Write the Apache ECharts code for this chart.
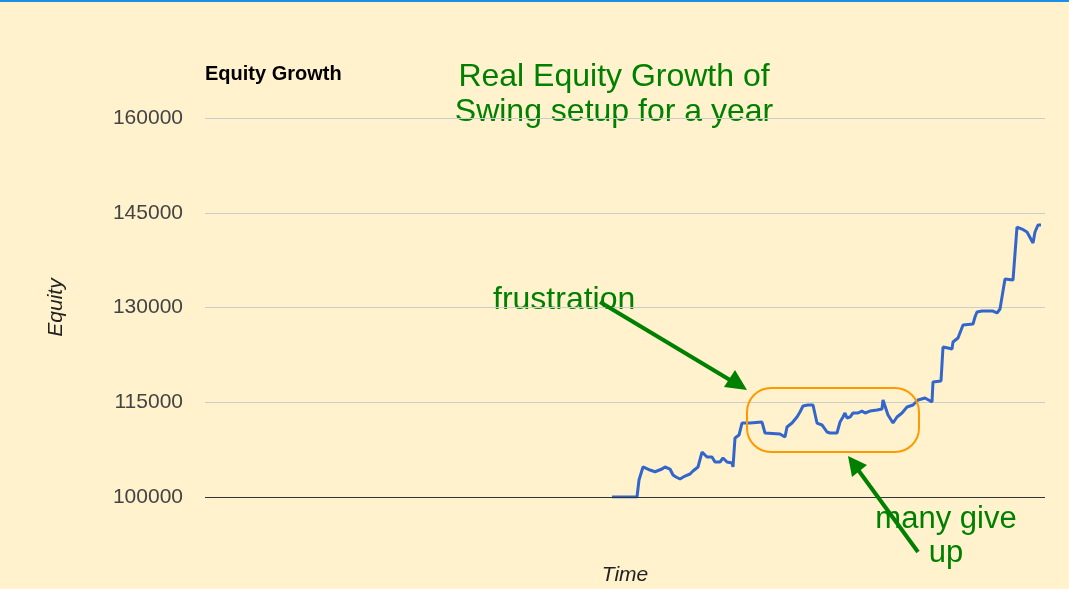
<!DOCTYPE html>
<html>
<head>
<meta charset="utf-8">
<title>Equity Growth</title>
<script src="https://cdn.jsdelivr.net/npm/echarts@6/dist/echarts.min.js"></script>
<style>
  html, body { margin: 0; padding: 0; background: #FFF2CC; }
  #chart { width: 1069px; height: 589px; }
</style>
</head>
<body>
<div id="chart"></div>
<script>
// time index (0..420 across the year) and account equity
var timeIdx = [
  203.5, 216, 217, 219, 222.5, 225, 228.5, 230, 232.5, 234, 235.5, 237.5, 240, 242.5, 244, 246.5,
  248.5, 251, 253.5, 255, 257.5, 259, 261, 263.5, 264, 265, 267, 268.5, 272.5, 278.5, 280, 281,
  287.5, 290, 291, 293.5, 296, 297.5, 299, 301.5, 304, 306, 308.5, 311, 312.5, 316, 317.5, 319,
  320, 321, 322.5, 324, 326.5, 328.5, 330, 332.5, 336, 338.5, 339, 340, 341.5, 344, 346, 348.5,
  351, 354, 356.5, 360, 363.5, 364, 368, 369, 371.5, 373.5, 374, 376.5, 377.5, 379, 384, 385,
  386, 388.5, 394, 396, 397.5, 398.5, 400, 404, 405, 406, 408.5, 411, 412, 414, 415, 416.5, 418
];
var equity = [
  100000, 100000, 102690, 104750, 104270, 104000, 104430, 104750, 104430, 103480, 103170, 102850, 103320, 103640, 104120, 104750,
  107120, 106330, 106330, 105540, 105540, 106170, 105540, 105380, 104750, 109340, 109810, 111710, 111710, 111870, 110130, 109970,
  109970, 109500, 111080, 111710, 112660, 113460, 114410, 114560, 114560, 111710, 111400, 110290, 110130, 110130, 111870, 112660,
  113300, 112510, 112660, 113300, 113300, 113610, 113300, 113610, 113770, 113930, 115350, 115040, 112980, 111710, 112660, 113300,
  114250, 114560, 115350, 115670, 115040, 118200, 118360, 123750, 123590, 123430, 124540, 125170, 125330, 127230, 127390, 128500,
  129290, 129440, 129440, 129130, 129760, 131660, 134510, 134350, 134190, 142740, 142420, 141950, 141950, 140210, 141950, 143060, 143060
];
var yTicks = [100000, 115000, 130000, 145000, 160000];

var green = '#008000';
var font = 'Liberation Sans, Arial, sans-serif';
var chart = echarts.init(document.getElementById('chart'), null, { renderer: 'canvas' });

var seriesData = timeIdx.map(function(t, i) { return [t, equity[i]]; });

chart.setOption({
  animation: false,
  backgroundColor: '#FFF2CC',
  textStyle: { fontFamily: font },
  title: {
    text: 'Equity Growth',
    left: 205,
    top: 64,
    padding: 0,
    textStyle: { fontSize: 20, fontWeight: 'bold', color: '#000', fontFamily: font }
  },
  grid: { left: 205, right: 24, top: 118, bottom: 92, outerBoundsMode: 'none', containLabel: false },
  xAxis: {
    type: 'value',
    min: 0,
    max: 420,
    name: 'Time',
    nameLocation: 'middle',
    nameGap: 68,
    nameTextStyle: { fontStyle: 'italic', fontSize: 21, color: '#222' },
    axisLabel: { show: false },
    axisTick: { show: false },
    axisLine: { show: false },
    splitLine: { show: false }
  },
  yAxis: {
    type: 'value',
    min: yTicks[0],
    max: yTicks[yTicks.length - 1],
    interval: 15000,
    name: 'Equity',
    nameLocation: 'middle',
    nameRotate: 90,
    nameGap: 138,
    nameTextStyle: { fontStyle: 'italic', fontSize: 21, color: '#222' },
    axisLabel: {
      color: '#444', fontSize: 21, margin: 22,
      formatter: function(v) { return String(v); }
    },
    axisTick: { show: false },
    axisLine: { show: false },
    splitLine: { lineStyle: { color: '#CCCCCC', width: 1 } }
  },
  series: [{
    type: 'line',
    data: seriesData,
    showSymbol: false,
    lineStyle: { color: '#3366CC', width: 3 },
    markLine: {
      silent: true,
      symbol: 'none',
      label: { show: false },
      lineStyle: { color: '#333', width: 1, type: 'solid' },
      data: [{ yAxis: yTicks[0] }]
    },
    z: 3
  }],
  graphic: [
    {
      type: 'rect',
      shape: { x: 0, y: 0, width: 1069, height: 2 },
      style: { fill: '#1A8FE3' }
    },
    {
      type: 'text',
      style: {
        text: 'Real Equity Growth of\nSwing setup for a year',
        x: 614, y: 60, align: 'center', verticalAlign: 'top',
        fill: green, fontSize: 32, lineHeight: 35, fontFamily: font
      }
    },
    {
      type: 'text',
      style: {
        text: 'frustration', x: 493, y: 300, verticalAlign: 'middle',
        fill: green, fontSize: 32, fontFamily: font
      }
    },
    {
      type: 'text',
      style: {
        text: 'many give\nup', x: 946, y: 502, align: 'center', verticalAlign: 'top',
        fill: green, fontSize: 31, lineHeight: 34, fontFamily: font
      }
    },
    {
      type: 'rect',
      shape: { x: 747, y: 388, width: 172, height: 64, r: 24 },
      style: { fill: 'none', stroke: '#FF9900', lineWidth: 2 },
      z: 10
    },
    // arrow from "frustration"
    {
      type: 'line',
      shape: { x1: 600, y1: 302, x2: 735, y2: 383 },
      style: { stroke: green, lineWidth: 4 },
      z: 10
    },
    {
      type: 'polygon',
      shape: { points: [[747, 390], [724, 387], [735, 370]] },
      style: { fill: green },
      z: 10
    },
    // arrow from "many give up"
    {
      type: 'line',
      shape: { x1: 918, y1: 552, x2: 856, y2: 467 },
      style: { stroke: green, lineWidth: 4 },
      z: 10
    },
    {
      type: 'polygon',
      shape: { points: [[848, 456], [867, 465], [852, 477]] },
      style: { fill: green },
      z: 10
    }
  ]
});
</script>
</body>
</html>
